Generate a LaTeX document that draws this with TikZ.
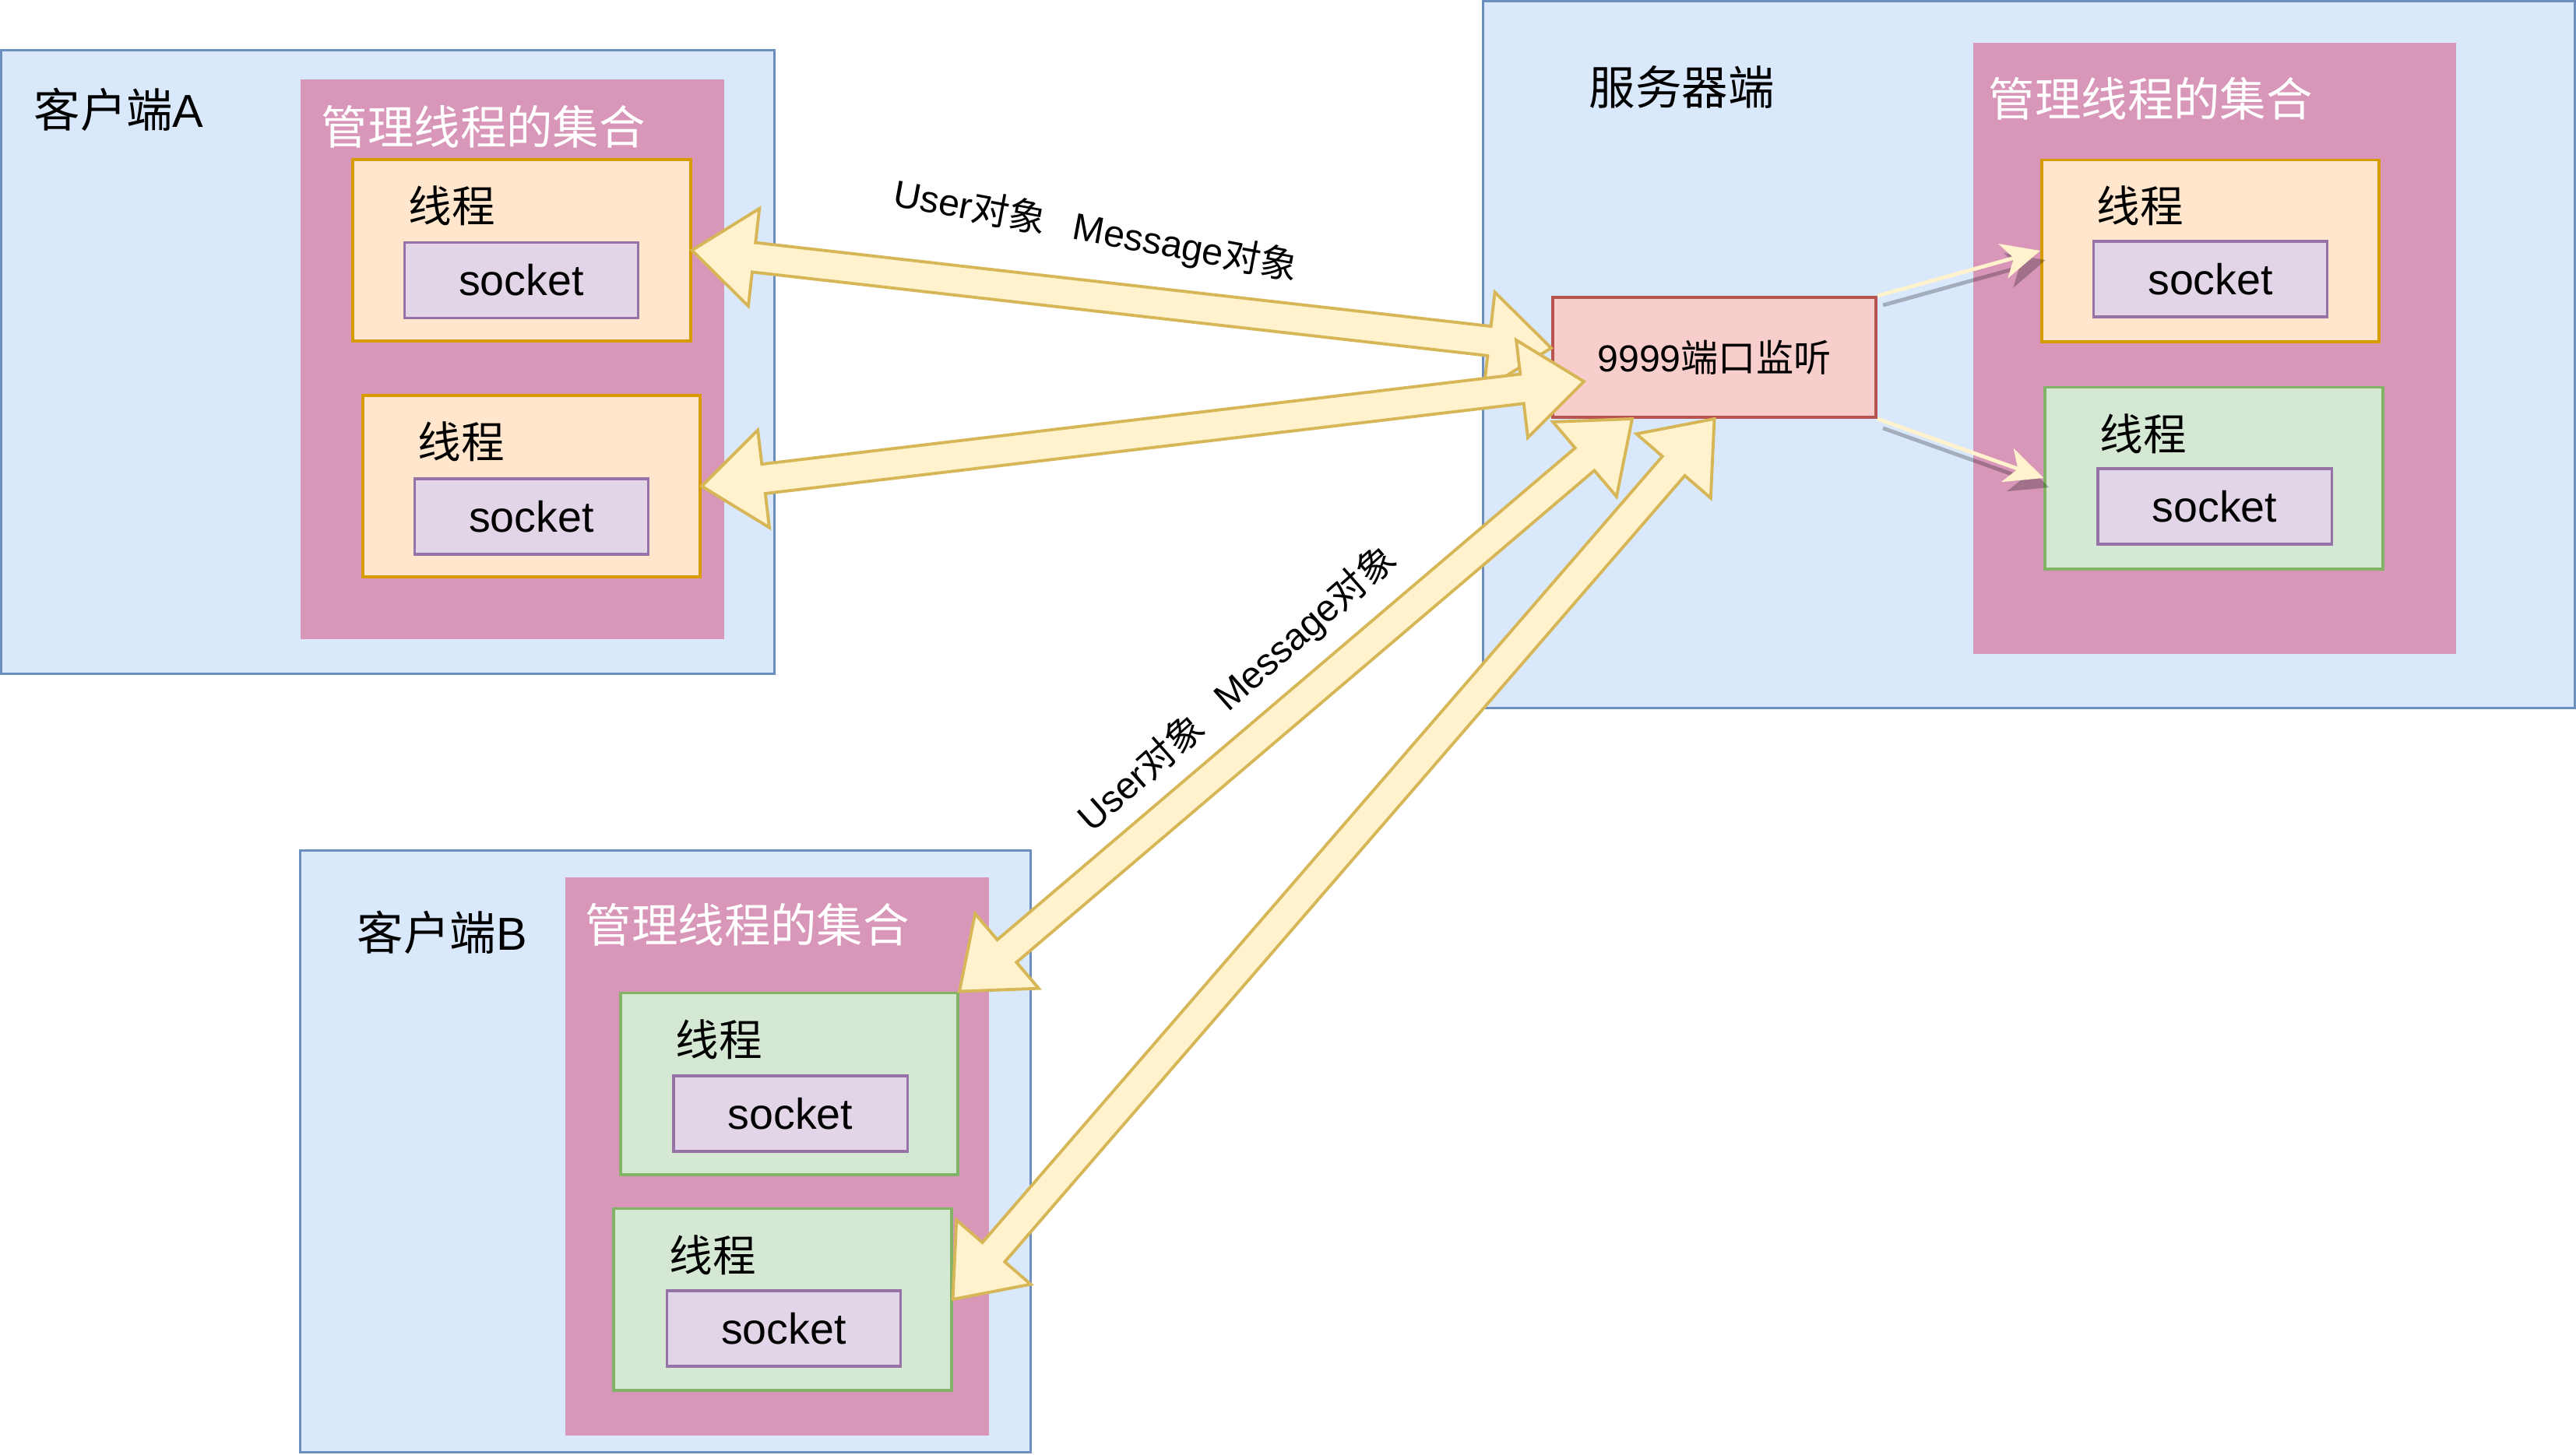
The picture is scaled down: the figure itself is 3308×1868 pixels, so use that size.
\documentclass[tikz,border=0pt]{standalone}
\usepackage{fontspec}
\setmainfont{Liberation Sans}
\newfontfamily\cjk{Noto Sans CJK SC}
\usetikzlibrary{calc,arrows.meta}
\definecolor{blueF}{HTML}{DAE8FC}
\definecolor{blueS}{HTML}{6C8EBF}
\definecolor{pinkF}{HTML}{D896B8}
\definecolor{orF}{HTML}{FFE6CC}
\definecolor{orS}{HTML}{D79B00}
\definecolor{grF}{HTML}{D5E8D4}
\definecolor{grS}{HTML}{82B366}
\definecolor{purF}{HTML}{E1D5E7}
\definecolor{purS}{HTML}{9673A6}
\definecolor{redF}{HTML}{F8CECC}
\definecolor{redS}{HTML}{B85450}
\definecolor{yelF}{HTML}{FFF2CC}
\definecolor{yelS}{HTML}{D6B656}
\newcommand\zh[1]{{\cjk #1}}
\newcommand\fzTitle{\fontsize{16.9pt}{20pt}\selectfont}
\newcommand\fzThr{\fontsize{15.8pt}{19pt}\selectfont}
\newcommand\fzSmall{\fontsize{13.7pt}{16pt}\selectfont}
\newcommand\dblarrow[2]{%
  \path ($(#1)!0.8cm!(#2)$) coordinate (h1) ($(#2)!0.8cm!(#1)$) coordinate (h2);
  \draw[barrow] (#1)
    -- ($(h1)!0.63cm!90:(#2)$) -- ($(h1)!0.19cm!90:(#2)$)
    -- ($(h2)!0.19cm!90:(#2)$) -- ($(h2)!0.63cm!90:(#2)$)
    -- (#2)
    -- ($(h2)!0.63cm!-90:(#2)$) -- ($(h2)!0.19cm!-90:(#2)$)
    -- ($(h1)!0.19cm!-90:(#2)$) -- ($(h1)!0.63cm!-90:(#2)$)
    -- cycle;}
\begin{document}
\begin{tikzpicture}[x=0.01cm,y=-0.01cm,
  outerbox/.style={rectangle, draw=blueS, fill=blueF, line width=0.9pt, inner sep=0},
  pinkbox/.style={rectangle, fill=pinkF, draw=none, inner sep=0, minimum width=5.44cm},
  thrO/.style={rectangle, fill=orF, draw=orS, line width=1.1pt, inner sep=0, minimum width=4.33cm, minimum height=2.33cm},
  thrG/.style={rectangle, fill=grF, draw=grS, line width=1.1pt, inner sep=0, minimum width=4.33cm, minimum height=2.33cm},
  sock/.style={rectangle, fill=purF, draw=purS, line width=0.9pt, inner sep=0, minimum width=3cm, minimum height=0.97cm, font=\fzThr},
  lab/.style={anchor=west, inner sep=0, font=\fzTitle},
  wlab/.style={anchor=west, inner sep=0, font=\fzTitle, text=white},
  tlab/.style={anchor=west, inner sep=0, font=\fzThr},
  barrow/.style={fill=yelF, draw=yelS, line width=1.1pt, line join=miter},
  smallarr/.style={line width=1.4pt, -{Stealth[length=14pt,width=13pt,inset=4pt]}}
]
\useasboundingbox (0,0) rectangle (3308,1868);

% ---------- client A ----------
\node[outerbox, minimum width=9.92cm, minimum height=8cm] (ca) at (498,465) {};
\node[lab] (caT) at (43,141) {\zh{客户端}A};
\node[pinkbox, minimum height=7.19cm] (pa) at (658,461.5) {};
\node[wlab] (paT) at (412,163) {\zh{管理线程的集合}};
\node[thrO] (a1) at (670,321.5) {};
\node[tlab] (a1T) at (524,264) {\zh{线程}};
\node[sock] (a1s) at (669.5,360) {socket};
\node[thrO] (a2) at (682.5,624.5) {};
\node[tlab] (a2T) at (536,567) {\zh{线程}};
\node[sock] (a2s) at (682.5,663.5) {socket};

% ---------- server ----------
\node[outerbox, minimum width=14.01cm, minimum height=9.07cm] (sv) at (2605.5,455.5) {};
\node[lab] (svT) at (2040,112) {\zh{服务器端}};
\node[pinkbox, minimum width=6.2cm, minimum height=7.85cm] (ps) at (2844,447.5) {};
\node[wlab] (psT) at (2553,127) {\zh{管理线程的集合}};
\node[thrO] (s1) at (2838.5,322) {};
\node[tlab] (s1T) at (2692,264) {\zh{线程}};
\node[sock] (s1s) at (2838.5,358.5) {socket};
\node[thrG] (s2) at (2843,614) {};
\node[tlab] (s2T) at (2696,557) {\zh{线程}};
\node[sock] (s2s) at (2844,650.5) {socket};
\node[rectangle, fill=redF, draw=redS, line width=1.1pt, inner sep=0,
      minimum width=4.15cm, minimum height=1.54cm, font=\fzSmall] (lis) at (2201.5,459) {9999\zh{端口监听}};

% ---------- client B ----------
\node[outerbox, minimum width=9.37cm, minimum height=7.72cm] (cb) at (854.5,1479) {};
\node[lab] (cbT) at (458,1198) {\zh{客户端}B};
\node[pinkbox, minimum height=7.17cm] (pb) at (998,1485.5) {};
\node[wlab] (pbT) at (751,1188) {\zh{管理线程的集合}};
\node[thrG] (b1) at (1013.5,1392) {};
\node[tlab] (b1T) at (867,1335) {\zh{线程}};
\node[sock] (b1s) at (1015,1430.5) {socket};
\node[thrG] (b2) at (1005,1669) {};
\node[tlab] (b2T) at (859,1612) {\zh{线程}};
\node[sock] (b2s) at (1006.5,1706.5) {socket};

% ---------- small arrows inside server ----------
\begin{scope}[transform canvas={shift={(0.07cm,-0.12cm)}}, transparency group, opacity=0.25]
  \draw[smallarr, black] (lis.north east) -- (s1.west);
  \draw[smallarr, black] (lis.south east) -- (s2.west);
\end{scope}
\draw[smallarr, yelF] (lis.north east) -- (s1.west);
\draw[smallarr, yelF] (lis.south east) -- (s2.west);

% ---------- block arrows ----------
\coordinate (p1) at (1992,447);
\coordinate (p2) at (2034,490);
\coordinate (p3) at (2096,538);
\dblarrow{a1.east}{p1}
\dblarrow{a2.east}{p2}
\dblarrow{b1.north east}{p3}
\dblarrow{b2.east}{lis.south}

% ---------- labels ----------
\node[rotate=-10.5, font=\fzSmall, inner sep=0] (l1) at (1407,297) {User\zh{对象}\hspace{0.75em}Message\zh{对象}};
\node[rotate=41.5, font=\fzSmall, inner sep=0] (l2) at (1589,885) {User\zh{对象}\hspace{0.75em}Message\zh{对象}};
\end{tikzpicture}
\end{document}
